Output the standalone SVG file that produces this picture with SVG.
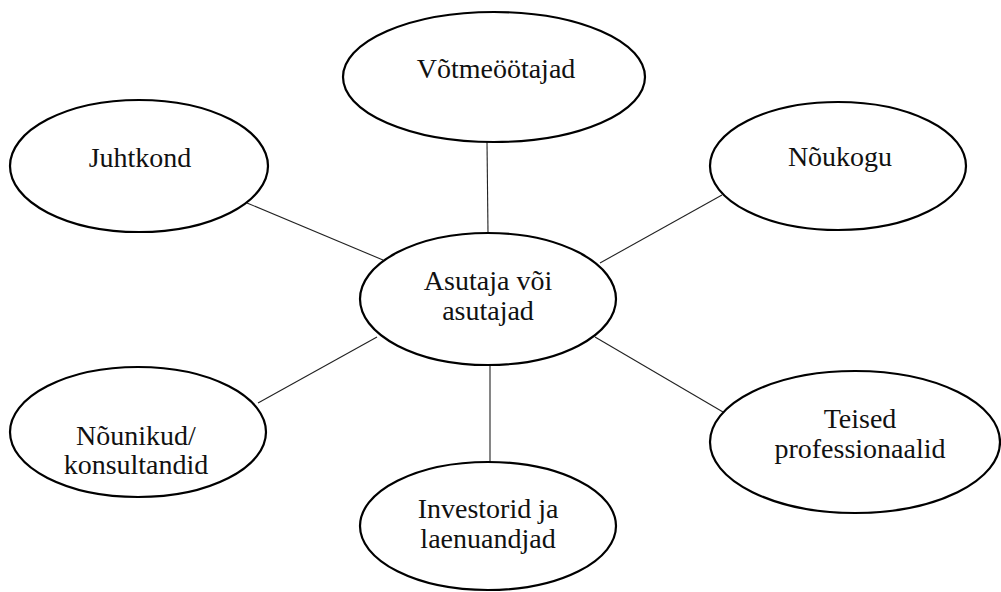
<svg xmlns="http://www.w3.org/2000/svg" width="1001" height="592" viewBox="0 0 1001 592">
<style>
.node ellipse{fill:#fff;stroke:#000;stroke-width:2.2}
.node text{font-family:"Liberation Serif","Times New Roman",serif;font-size:28px;fill:#111;text-anchor:middle}
#connectors line{stroke:#222;stroke-width:1.1}
</style>
<rect width="1001" height="592" fill="#fff"/>
<g id="connectors">
<line x1="487" y1="142" x2="488" y2="233"/>
<line x1="247" y1="203" x2="383" y2="260"/>
<line x1="722" y1="195" x2="600" y2="263"/>
<line x1="258" y1="403" x2="377" y2="337"/>
<line x1="723" y1="412" x2="595" y2="337"/>
<line x1="490" y1="365" x2="490" y2="462"/>
</g>
<g id="n-votmetootajad" class="node"><ellipse cx="494" cy="77" rx="151" ry="65"/><text x="496" y="78">Võtmeöötajad</text></g>
<g id="n-juhtkond" class="node"><ellipse cx="139" cy="166" rx="129" ry="66"/><text x="140" y="167">Juhtkond</text></g>
<g id="n-noukogu" class="node"><ellipse cx="838" cy="166" rx="128" ry="64"/><text x="840" y="166">Nõukogu</text></g>
<g id="n-asutaja" class="node"><ellipse cx="488" cy="299" rx="128" ry="66"/><text x="488" y="290">Asutaja või</text><text x="488" y="320">asutajad</text></g>
<g id="n-nounikud" class="node"><ellipse cx="138" cy="432" rx="128" ry="65"/><text x="136" y="445">Nõunikud/</text><text x="136" y="474">konsultandid</text></g>
<g id="n-investorid" class="node"><ellipse cx="488" cy="526" rx="128" ry="64"/><text x="488" y="518">Investorid ja</text><text x="488" y="548">laenuandjad</text></g>
<g id="n-teised" class="node"><ellipse cx="855" cy="442" rx="145" ry="71"/><text x="860" y="428">Teised</text><text x="860" y="458">professionaalid</text></g>
</svg>
